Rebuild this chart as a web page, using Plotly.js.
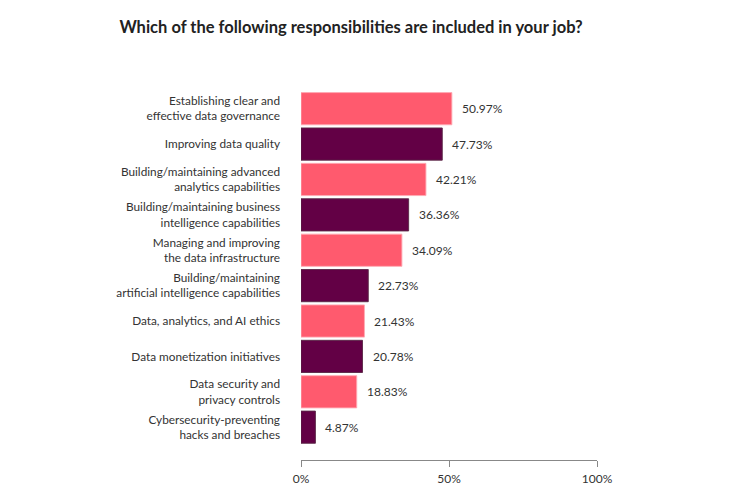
<!DOCTYPE html>
<html>
<head>
<meta charset="utf-8">
<script src="https://cdn.plot.ly/plotly-3.0.1.min.js"></script>
<style>html,body{margin:0;padding:0;background:#fff;}#chart{width:750px;height:500px;}</style>
</head>
<body>
<div id="chart"></div>
<script>
const categories = [
  "Establishing clear and<br>effective data governance",
  "Improving data quality",
  "Building/maintaining advanced<br>analytics capabilities",
  "Building/maintaining business<br>intelligence capabilities",
  "Managing and improving<br>the data infrastructure",
  "Building/maintaining<br>artificial intelligence capabilities",
  "Data, analytics, and AI ethics",
  "Data monetization initiatives",
  "Data security and<br>privacy controls",
  "Cybersecurity-preventing<br>hacks and breaches"
];
const values = [50.97, 47.73, 42.21, 36.36, 34.09, 22.73, 21.43, 20.78, 18.83, 4.87];
const barColors = ["#FF5A6E", "#630045"];
const tickVals = [0, 50, 100];
const tickText = ["0%", "50%", "100%"];

const FONT = "Lato, 'DejaVu Sans', sans-serif";
const colors = values.map((v, i) => barColors[i % 2]);
const lineColors = values.map((v, i) => i % 2 === 0 ? "rgba(255,170,180,0.9)" : "rgba(90,40,70,0.9)");

const trace = {
  type: "bar",
  orientation: "h",
  x: values,
  y: categories,
  marker: { color: colors, line: { color: lineColors, width: 1 } },
  hoverinfo: "none"
};

const annotations = values.map((v, i) => ({
  x: v, y: categories[i], xref: "x", yref: "y",
  text: v.toFixed(2) + "%",
  showarrow: false, xanchor: "left", yanchor: "middle", xshift: 8,
  font: { family: FONT, size: 12, color: "#333" }
}));

const layout = {
  width: 750,
  height: 500,
  paper_bgcolor: "#fff",
  plot_bgcolor: "#fff",
  margin: { l: 301, r: 153, t: 91, b: 40 },
  bargap: 0.09,
  showlegend: false,
  annotations: annotations,
  title: {
    text: "Which of the following responsibilities are included in your job?",
    x: 0.468, xanchor: "center", y: 0.945, yanchor: "middle",
    font: { family: FONT, size: 16.5, color: "#222", weight: 700 }
  },
  xaxis: {
    range: [0, 100],
    tickvals: tickVals,
    ticktext: tickText,
    showgrid: false,
    zeroline: false,
    showline: true,
    linecolor: "#888",
    linewidth: 1,
    ticks: "outside",
    ticklen: 6,
    tickcolor: "#888",
    ticklabelstandoff: 2,
    anchor: "free",
    position: 0,
    fixedrange: true,
    tickfont: { family: FONT, size: 12, color: "#333" }
  },
  yaxis: {
    domain: [0.041, 1],
    autorange: "reversed",
    showgrid: false,
    zeroline: false,
    showline: false,
    ticks: "",
    ticklabelstandoff: 20,
    fixedrange: true,
    tickfont: { family: FONT, size: 11.8, color: "#333" }
  }
};

Plotly.newPlot("chart", [trace], layout, { displayModeBar: false, staticPlot: true });
</script>
</body>
</html>
